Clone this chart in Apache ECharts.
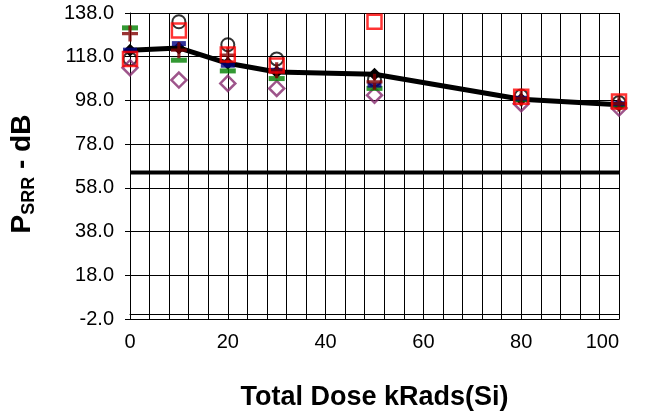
<!DOCTYPE html>
<html>
<head>
<meta charset="utf-8">
<script src="https://cdn.jsdelivr.net/npm/echarts@6/dist/echarts.min.js"></script>
<style>
  html, body { margin: 0; padding: 0; background: #fff; }
  #main { width: 650px; height: 419px; }
</style>
</head>
<body>
<div id="main"></div>
<script>
// dose points (kRads(Si))
var doses = [0, 10, 20, 30, 50, 80, 100];
// average (thick black line, filled diamonds)
var avgVals = [121, 122, 115, 111, 110, 98.5, 96];
// individual devices
var circleVals = [117, 134, 123.5, 117, 107.5, 100, 97];
var squareVals = [117, 130, 119, 114, 134, 99.7, 97.5];
var diamondVals = [113, 107.3, 105.8, 103.5, 100.4, 96.5, 94.5];
var greenVals = [131.2, 116.4, 111.5, 108, 103.5, 98.5, 96];
var plusVals = [128.6, 121, 118.7, 111.8, 106.5, 99, 96.5];
var blueVals = [121, 124, 114.1, 111.8, 105, 99, 96.5];
// spec limit line
var limitX = [0, 100];
var limitY = [65, 65];
var yTicks = [-2, 18, 38, 58, 78, 98, 118, 138];

function pairs(xs, ys) {
  return xs.map(function (x, i) { return [x, ys[i]]; });
}

var plusPath = 'path://M4,0H6V4H10V6H6V10H4V6H0V4H4Z';
var font = 'Liberation Sans, Arial, sans-serif';

var myChart = echarts.init(document.getElementById('main'));
myChart.setOption({
  animation: false,
  grid: { left: 129, right: 31, top: 13, bottom: 100 },
  xAxis: {
    type: 'value', min: 0, max: 100, interval: 20,
    name: 'Total Dose kRads(Si)', nameLocation: 'middle', nameGap: 65,
    nameTextStyle: { fontFamily: font, fontSize: 27, fontWeight: 'bold', color: '#000' },
    axisLine: { lineStyle: { color: '#000', width: 1 } },
    axisTick: { show: true, length: 5, lineStyle: { color: '#000' } },
    axisLabel: { fontFamily: font, fontSize: 20, color: '#000', margin: 13, alignMaxLabel: 'right' },
    splitLine: { show: true, lineStyle: { color: '#000', width: 1 } },
    minorTick: { show: false, splitNumber: 5 },
    minorSplitLine: { show: true, lineStyle: { color: '#000', width: 1 } }
  },
  yAxis: {
    type: 'value', min: -2, max: 138,
    name: '{a|P}{b|SRR}{a| - dB}', nameLocation: 'middle', nameGap: 94,
    nameTextStyle: {
      padding: [0, 16, 0, 0],
      rich: {
        a: { fontFamily: font, fontSize: 28, fontWeight: 'bold', color: '#000' },
        b: { fontFamily: font, fontSize: 18, fontWeight: 'bold', color: '#000', verticalAlign: 'bottom', padding: [0, 0, -2, 0] }
      }
    },
    axisLine: { show: true, lineStyle: { color: '#000', width: 1 } },
    axisTick: { show: true, length: 5, customValues: yTicks, lineStyle: { color: '#000' } },
    axisLabel: {
      fontFamily: font, fontSize: 20, color: '#000', margin: 16,
      customValues: yTicks,
      formatter: function (v) { return v.toFixed(1); }
    },
    splitLine: { show: true, lineStyle: { color: '#000', width: 1 } }
  },
  series: [
    {
      type: 'line', data: pairs(limitX, limitY), symbol: 'none',
      lineStyle: { color: '#000', width: 4 }, z: 2
    },
    {
      type: 'line', data: pairs(doses, avgVals), symbol: 'diamond', symbolSize: 13,
      lineStyle: { color: '#000', width: 5 }, itemStyle: { color: '#000' }, z: 3
    },
    {
      type: 'scatter', data: pairs(doses, circleVals), symbol: 'circle', symbolSize: 13,
      itemStyle: { color: 'none', borderColor: '#000', borderWidth: 2 }, z: 4
    },
    {
      type: 'scatter', data: pairs(doses, diamondVals), symbol: 'diamond', symbolSize: 15,
      itemStyle: { color: 'none', borderColor: '#862a6e', borderWidth: 2.5 }, z: 4
    },
    {
      type: 'scatter', data: pairs(doses, greenVals), symbol: 'rect', symbolSize: [16, 5],
      itemStyle: { color: '#008000' }, z: 5
    },
    {
      type: 'scatter', data: pairs(doses, blueVals), symbol: 'rect', symbolSize: [14, 5],
      itemStyle: { color: '#000080' }, z: 5
    },
    {
      type: 'scatter', data: pairs(doses, plusVals), symbol: plusPath, symbolSize: 16,
      itemStyle: { color: '#800000' }, z: 6
    },
    {
      type: 'scatter', data: pairs(doses, squareVals), symbol: 'rect', symbolSize: 14,
      itemStyle: { color: 'none', borderColor: '#ff0000', borderWidth: 2.5 }, z: 7
    }
  ]
});
</script>
</body>
</html>
